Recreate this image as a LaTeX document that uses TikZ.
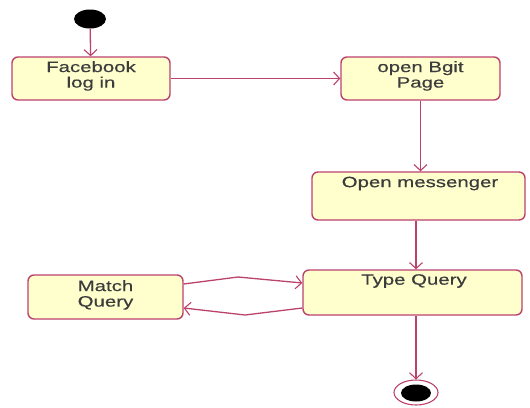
\documentclass[tikz,border=0pt]{standalone}
\usepackage{fontspec}
\setmainfont{Liberation Sans}[FakeStretch=1.36,FakeBold=0.4]
\usetikzlibrary{arrows.meta,shapes.geometric}
\definecolor{edgec}{RGB}{188,66,110}
\definecolor{boxfill}{RGB}{255,255,206}
\definecolor{txtc}{RGB}{60,60,60}
\begin{document}
\begin{tikzpicture}[x=1pt,y=-1pt,
  state/.style={draw=edgec, line width=1.4pt, fill=boxfill, rounded corners=6pt, inner sep=0pt},
  lbl/.style={anchor=north, align=center, font=\fontsize{15}{15.5}\selectfont, text=txtc, inner sep=0pt},
  flow/.style={draw=edgec, line width=1.3pt, -{Straight Barb[length=6pt,width=13pt,line width=1.1pt]}}]
\useasboundingbox (0,0) rectangle (530,407);
% start
\node[ellipse, fill=black, minimum width=32pt, minimum height=19pt, inner sep=0pt] (st) at (90,19) {};
% boxes
\node[state, minimum width=158pt, minimum height=43pt] (fb) at (91,78.5) {};
\node[lbl] (fbt) at (91,61) {Facebook\\log in};
\node[state, minimum width=159pt, minimum height=43pt] (bg) at (420.5,78.5) {};
\node[lbl] (bgt) at (420.5,61) {open Bgit\\Page};
\node[state, minimum width=213pt, minimum height=48pt] (ms) at (418.5,196) {};
\node[lbl] (mst) at (420,176.5) {Open messenger};
\node[state, minimum width=219pt, minimum height=45pt] (tq) at (412.5,292.5) {};
\node[lbl] (tqt) at (414,274) {Type Query};
\node[state, minimum width=155pt, minimum height=44pt] (mq) at (105.5,297) {};
\node[lbl] (mqt) at (105.5,280) {Match\\Query};
% end
\node[ellipse, draw=edgec, line width=1.1pt, fill=white, minimum width=44pt, minimum height=25pt, inner sep=0pt] (en) at (416,392.5) {};
\node[ellipse, fill=black, minimum width=30pt, minimum height=17pt, inner sep=0pt] (enc) at (416,393) {};
% connectors
\draw[flow] (st) -- (fb);
\draw[flow] (fb) -- (bg);
\draw[flow] (bg) -- (bg |- ms.north);
\draw[flow] (ms.south -| en) -- (tq.north -| en);
\draw[flow] (tq.south -| en) -- (en);
\coordinate (m1) at (238,277);
\coordinate (m2) at (245,315);
\draw[flow] ([yshift=13pt]mq.east) -- (m1) -- ([yshift=9.5pt]tq.west);
\draw[flow] ([yshift=-15.5pt]tq.west) -- (m2) -- ([yshift=-11pt]mq.east);
\end{tikzpicture}
\end{document}
